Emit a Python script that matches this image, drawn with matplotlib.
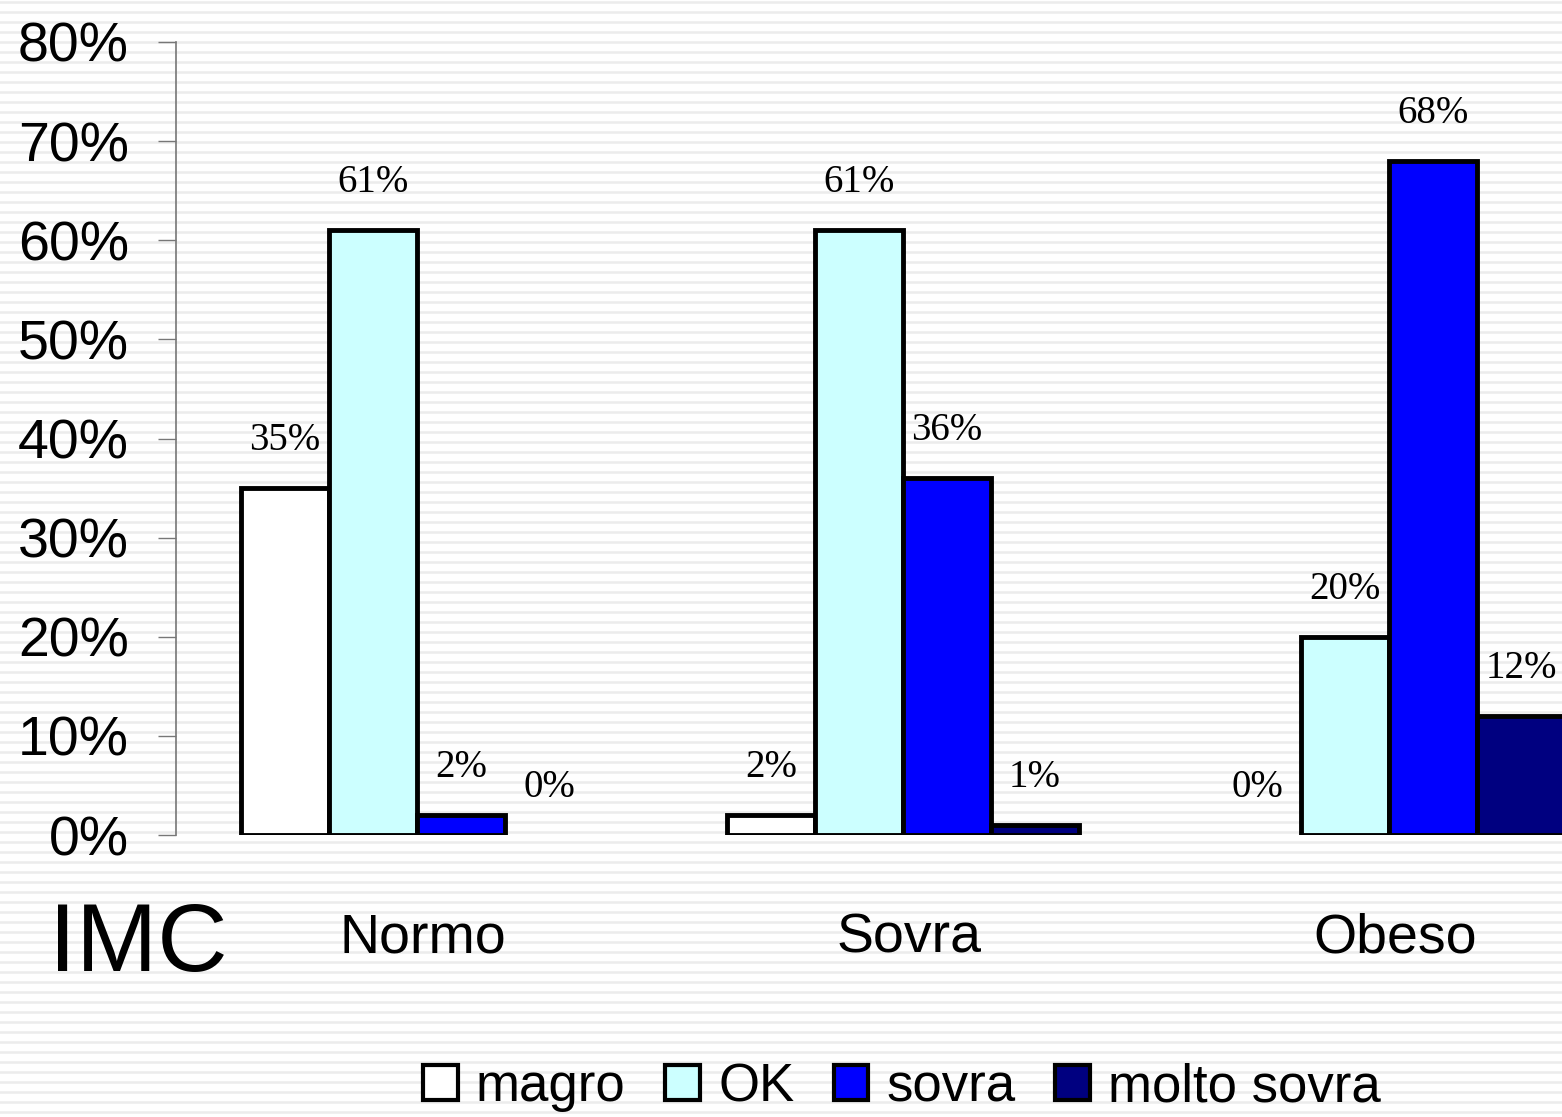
import numpy as np
import matplotlib.pyplot as plt
from matplotlib.patches import Patch

# data
categories = ["Normo", "Sovra", "Obeso"]
series = ["magro", "OK", "sovra", "molto sovra"]
magro = [0.35, 0.02, 0.0]
ok = [0.61, 0.61, 0.20]
sovra = [0.02, 0.36, 0.68]
molto_sovra = [0.0, 0.01, 0.12]
value_labels = [["35%", "61%", "2%", "0%"],
                ["2%", "61%", "36%", "1%"],
                ["0%", "20%", "68%", "12%"]]
colors = ["#ffffff", "#ccffff", "#0000ff", "#000080"]
yticks = [0, 0.1, 0.2, 0.3, 0.4, 0.5, 0.6, 0.7, 0.8]
ytick_labels = ["0%", "10%", "20%", "30%", "40%", "50%", "60%", "70%", "80%"]

W, H = 1562, 1117
fig = plt.figure(figsize=(W / 100, H / 100), dpi=100)
fig.patch.set_facecolor("white")

# striped background
bg = fig.add_axes([0, 0, 1, 1])
bg.set_xlim(0, W)
bg.set_ylim(H, 0)
bg.axis("off")
for y in np.arange(1.5, H, 10):
    bg.axhline(y, color="#ececec", lw=1.8)

left = 176 / W
bottom = (H - 835) / H
top = (H - 42) / H
ax = fig.add_axes([left, bottom, 1 - left, top - bottom])
ax.patch.set_alpha(0)

width = 88 / 486
x = np.arange(len(categories))
all_series = [magro, ok, sovra, molto_sovra]
for i, vals in enumerate(all_series):
    pos = x + (i - 1.5) * width
    lw = [3.5 if v > 0 else 0 for v in vals]
    ax.bar(pos, vals, width=width, color=colors[i], edgecolor="black",
           linewidth=lw, label=series[i], zorder=3)
    for j, v in enumerate(vals):
        ax.text(pos[j], v + 0.048, value_labels[j][i], ha="center", va="center",
                fontsize=28, family="Liberation Serif", zorder=4)

ax.set_xlim(-0.496, 2.356)
ax.set_ylim(0, 0.8)
ax.set_yticks(yticks)
ax.set_yticklabels(ytick_labels, fontsize=40, family="Liberation Sans")
ax.tick_params(axis="y", length=13, width=1.0, color="#777777", pad=21)
ax.set_xticks([])
for s in ["top", "right", "bottom"]:
    ax.spines[s].set_visible(False)
ax.spines["left"].set_color("#777777")
ax.spines["left"].set_linewidth(1.2)

for j, c in enumerate(categories):
    ax.text(x[j] + 0.012, -0.104, c, ha="center", va="center", fontsize=40,
            family="Liberation Sans")
fig.text(138 / W, 1 - 946 / H, "IMC", ha="center", va="center", fontsize=70,
         family="Liberation Sans")

handles = [Patch(facecolor=colors[i], edgecolor="black", linewidth=3, label=series[i])
           for i in range(4)]
fig.legend(handles=handles, loc="center", bbox_to_anchor=(902 / W, 1 - 1087 / H),
           ncol=4, frameon=False, handlelength=0.65, handleheight=0.65,
           handletextpad=0.35, columnspacing=0.75,
           prop={"family": "Liberation Sans", "size": 38})

fig.savefig("out.png", dpi=100)
